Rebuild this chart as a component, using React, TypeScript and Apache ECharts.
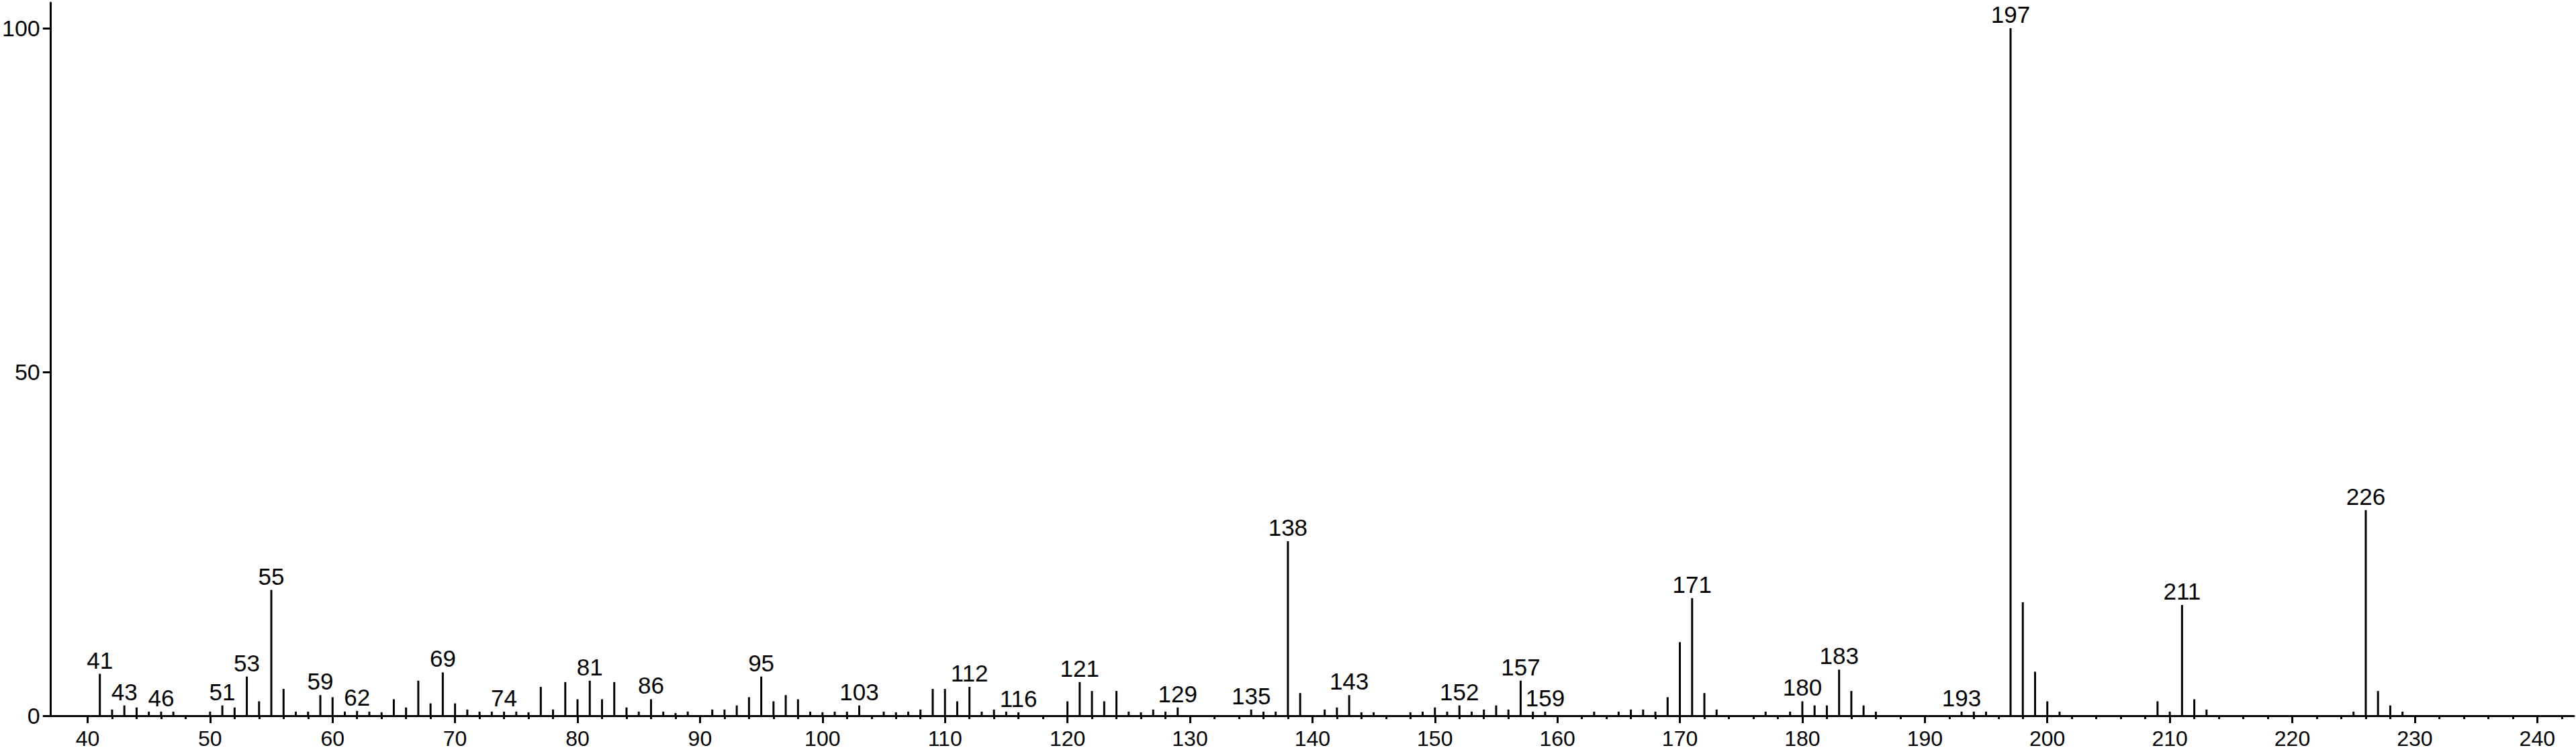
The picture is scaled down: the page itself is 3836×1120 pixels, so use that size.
import React, { useEffect, useRef } from "react";
import * as echarts from "echarts";

const MZ = [41, 42, 43, 44, 45, 46, 47, 50, 51, 52, 53, 54, 55, 56, 57, 58, 59, 60, 61, 62, 63, 64, 65, 66, 67, 68, 69, 70, 71, 72, 73, 74, 75, 76, 77, 78, 79, 80, 81, 82, 83, 84, 85, 86, 87, 88, 89, 91, 92, 93, 94, 95, 96, 97, 98, 99, 100, 101, 102, 103, 105, 106, 107, 108, 109, 110, 111, 112, 113, 114, 115, 116, 120, 121, 122, 123, 124, 125, 126, 127, 128, 129, 135, 136, 137, 138, 139, 141, 142, 143, 144, 145, 148, 149, 150, 151, 152, 153, 154, 155, 156, 157, 158, 159, 163, 165, 166, 167, 168, 169, 170, 171, 172, 173, 177, 179, 180, 181, 182, 183, 184, 185, 186, 193, 194, 195, 197, 198, 199, 200, 201, 209, 210, 211, 212, 213, 225, 226, 227, 228, 229];
const INTENSITY = [6.1, 0.9, 1.5, 1.2, 0.6, 0.6, 0.6, 0.6, 1.5, 1.2, 5.7, 2.1, 18.3, 3.9, 0.6, 0.6, 3.0, 2.7, 0.6, 0.7, 0.6, 0.5, 2.4, 1.2, 5.1, 1.8, 6.3, 1.8, 0.9, 0.6, 0.6, 0.6, 0.6, 0.5, 4.2, 0.9, 4.9, 2.4, 5.1, 2.4, 4.9, 1.2, 0.6, 2.4, 0.6, 0.4, 0.6, 0.9, 0.9, 1.5, 2.7, 5.7, 2.1, 3.0, 2.4, 0.6, 0.5, 0.6, 0.6, 1.5, 0.6, 0.5, 0.6, 0.9, 3.9, 3.9, 2.1, 4.2, 0.6, 0.9, 0.6, 0.5, 2.1, 4.9, 3.6, 2.1, 3.6, 0.6, 0.5, 0.9, 0.6, 1.2, 0.9, 0.6, 0.6, 25.4, 3.3, 0.9, 1.2, 3.0, 0.5, 0.5, 0.5, 0.6, 1.2, 0.6, 1.5, 0.6, 0.9, 1.5, 0.9, 5.1, 0.6, 0.6, 0.6, 0.6, 0.9, 0.9, 0.6, 2.7, 10.7, 17.1, 3.3, 0.9, 0.6, 0.6, 2.1, 1.5, 1.5, 6.7, 3.6, 1.5, 0.6, 0.6, 0.6, 0.6, 100, 16.5, 6.4, 2.1, 0.6, 2.1, 0.6, 16.1, 2.4, 0.9, 0.6, 29.9, 3.6, 1.5, 0.6];
const LABELED = [41, 43, 46, 51, 53, 55, 59, 62, 69, 74, 81, 86, 95, 103, 112, 116, 121, 129, 135, 138, 143, 152, 157, 159, 171, 180, 183, 193, 197, 211, 226];
const X_MAJOR_TICKS = [40, 50, 60, 70, 80, 90, 100, 110, 120, 130, 140, 150, 160, 170, 180, 190, 200, 210, 220, 230, 240];
const X_MINOR_TICKS = [42, 44, 46, 48, 52, 54, 56, 58, 62, 64, 66, 68, 72, 74, 76, 78, 82, 84, 86, 88, 92, 94, 96, 98, 102, 104, 106, 108, 112, 114, 116, 118, 122, 124, 126, 128, 132, 134, 136, 138, 142, 144, 146, 148, 152, 154, 156, 158, 162, 164, 166, 168, 172, 174, 176, 178, 182, 184, 186, 188, 192, 194, 196, 198, 202, 204, 206, 208, 212, 214, 216, 218, 222, 224, 226, 228, 232, 234, 236, 238, 242];
const Y_TICKS = [0, 50, 100];

const FONT = '"Liberation Sans Narrow", "Arial Narrow", "Liberation Sans", Arial, sans-serif';

export default function App() {
  const ref = useRef<HTMLDivElement>(null);
  useEffect(() => {
    if (!ref.current) return;
    const chart = echarts.init(ref.current, null, { renderer: "svg" });
    const data = MZ.map((m, i) => {
      const item: any = { value: [m, INTENSITY[i]] };
      if (LABELED.includes(m)) {
        item.label = { show: true };
      }
      return item;
    });
    chart.setOption({
      animation: false,
      backgroundColor: "#ffffff",
      grid: { left: 70, right: 3, top: 4, bottom: 54, containLabel: false },
      xAxis: [
        {
          type: "value",
          min: 37,
          max: 243,
          axisLine: { show: true, lineStyle: { color: "#000", width: 3 } },
          axisTick: { show: true, customValues: X_MAJOR_TICKS, length: 11, lineStyle: { color: "#000", width: 3 } },
          axisLabel: {
            show: true,
            customValues: X_MAJOR_TICKS,
            margin: 18,
            fontSize: 32,
            lineHeight: 32,
            color: "#000",
            fontFamily: FONT,
          },
          splitLine: { show: false },
        },
        {
          type: "value",
          min: 37,
          max: 243,
          position: "bottom",
          axisLine: { show: false },
          axisTick: { show: true, customValues: X_MINOR_TICKS, length: 5, lineStyle: { color: "#000", width: 3 } },
          axisLabel: { show: false },
          splitLine: { show: false },
        },
      ],
      yAxis: {
        type: "value",
        min: 0,
        max: 103.7,
        axisLine: { show: true, lineStyle: { color: "#000", width: 3 } },
        axisTick: { show: true, customValues: Y_TICKS, length: 12, lineStyle: { color: "#000", width: 3 } },
        axisLabel: { show: true, customValues: Y_TICKS, margin: 16, fontSize: 34, color: "#000", fontFamily: FONT },
        splitLine: { show: false },
      },
      series: [
        {
          type: "bar",
          xAxisIndex: 0,
          barWidth: 3,
          itemStyle: { color: "#000" },
          label: {
            show: false,
            position: "top",
            distance: 3,
            fontSize: 35,
            color: "#000",
            fontFamily: FONT,
            formatter: (p: any) => String(p.value[0]),
          },
          data,
        },
      ],
    });
    return () => chart.dispose();
  }, []);
  return (
    <div
      ref={ref}
      style={{ position: "absolute", left: 0, top: 0, width: 3836, height: 1120, background: "#fff" }}
    />
  );
}
